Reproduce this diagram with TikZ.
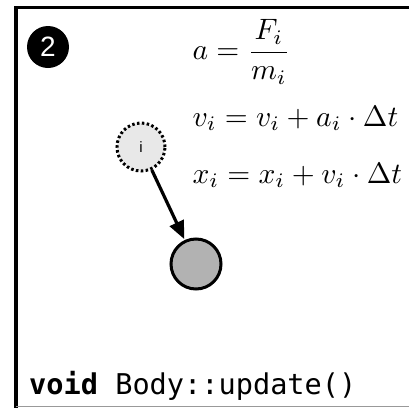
\documentclass[tikz,border=0pt]{standalone}
\usepackage{fontspec}
\setmonofont{DejaVu Sans Mono}
\newfontfamily\labelfont{Liberation Sans}
\usetikzlibrary{arrows.meta}
\tikzset{
  frameline/.style={line width=3.5pt, black},
  eqn/.style={anchor=base west, inner sep=0pt, scale=2.95},
  badge/.style={circle, fill=black, minimum size=42pt, inner sep=0pt, text=white, font=\labelfont\fontsize{28}{28}\selectfont},
  ghost/.style={circle, fill=black!9, draw=black, line width=3pt, dash pattern=on 2.5pt off 2.4pt, minimum size=48pt, inner sep=0pt, font=\labelfont\fontsize{15}{15}\selectfont},
  body/.style={circle, fill=black!30, draw=black, line width=3pt, minimum size=50pt, inner sep=0pt},
  move/.style={line width=3.2pt, -{Triangle[length=18pt, width=15pt]}, shorten >=1pt},
  code/.style={anchor=base west, inner sep=0pt, font=\ttfamily\fontsize{28.6}{30}\selectfont}
}
\begin{document}
\begin{tikzpicture}[x=1pt, y=1pt]
\useasboundingbox (0,0) rectangle (409,-407);
\draw[frameline] (16,-409) -- (16,-7.5) -- (412,-7.5);
\draw[black!40, line width=1pt] (16,-406) -- (412,-406);
\node[badge] (num) at (48,-47) {2};
\node[eqn, anchor=west] (eqa) at (192,-52) {$\displaystyle a=\frac{F_i}{m_i}$};
\node[eqn] (eqv) at (192,-126) {$v_i=v_i+a_i\cdot\Delta t$};
\node[eqn] (eqx) at (192,-183) {$x_i=x_i+v_i\cdot\Delta t$};
\node[ghost] (old) at (141,-147) {i};
\node[body] (new) at (196,-264) {};
\draw[move] (old) -- (new);
\node[code] (fn) at (29,-394) {\textbf{void} Body::update()};
\end{tikzpicture}
\end{document}
